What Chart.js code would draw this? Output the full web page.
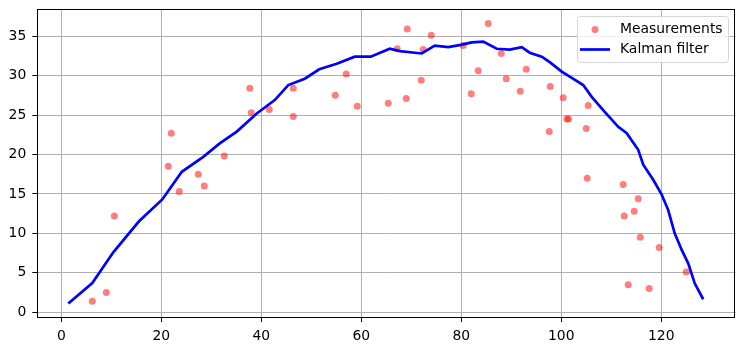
<!DOCTYPE html>
<html>
<head>
<meta charset="utf-8">
<script src="https://cdn.jsdelivr.net/npm/chart.js@4/dist/chart.umd.min.js"></script>
<style>
  html, body { margin: 0; padding: 0; background: #fff; }
  #wrap { width: 744px; height: 351px; }
</style>
</head>
<body>
<div id="wrap"><canvas id="kalmanChart" width="744" height="351"></canvas></div>
<script>
// Messwerte (x, y)
const measX = [6.2, 9.0, 10.6, 21.4, 22.0, 23.6, 27.4, 28.6, 32.6, 37.7, 38.0, 41.6, 46.4, 46.4,
    54.8, 57.0, 59.2, 65.4, 67.2, 69.0, 69.2, 72.0, 72.4, 74.0, 80.4, 82.0, 83.4, 85.4, 88.0,
    89.0, 91.8, 93.0, 97.6, 97.8, 100.4, 101.1, 101.5, 105.0, 105.2, 105.4, 112.4, 112.6,
    113.4, 114.6, 115.4, 115.8, 117.6, 119.6, 125.0];
const measY = [1.4, 2.5, 12.2, 18.5, 22.7, 15.3, 17.5, 16.0, 19.8, 28.4, 25.3, 25.7, 28.4, 24.8,
    27.5, 30.2, 26.1, 26.5, 33.4, 27.1, 35.9, 29.4, 33.3, 35.1, 33.8, 27.7, 30.6, 36.6, 32.8,
    29.6, 28.0, 30.8, 22.9, 28.6, 27.2, 24.5, 24.5, 23.3, 17.0, 26.2, 16.2, 12.2,
    3.5, 12.8, 14.4, 9.5, 3.0, 8.2, 5.1];

// Kalman-Schätzung (x, y)
const kalmanX = [1.4, 6.2, 10.4, 15.5, 20.2, 24.1, 28.4, 31.7, 35.1, 39.1, 42.7, 45.4, 48.7, 51.6,
    55.1, 58.7, 61.9, 65.7, 67.7, 72.1, 74.7, 77.4, 79.9, 82.1, 84.4, 87.1, 89.7, 92.1, 93.7,
    96.1, 97.7, 100.1, 102.1, 104.4, 106.1, 108.7, 111.4, 113.1, 115.4, 116.4, 118.4, 120.1,
    121.4, 122.7, 124.1, 125.4, 126.7, 128.4];
const kalmanY = [1.1, 3.7, 7.6, 11.5, 14.3, 17.8, 19.7, 21.4, 22.9, 25.2, 26.9, 28.8, 29.6, 30.8,
    31.5, 32.4, 32.4, 33.4, 33.1, 32.8, 33.8, 33.6, 33.9, 34.2, 34.3, 33.4, 33.3, 33.6, 32.9,
    32.4, 31.7, 30.5, 29.7, 28.8, 27.3, 25.4, 23.5, 22.7, 20.6, 18.7, 16.8, 14.9,
    12.95, 10.0, 7.9, 6.2, 3.67, 1.65];

const xTicks = [0, 20, 40, 60, 80, 100, 120];
const yTicks = [0, 5, 10, 15, 20, 25, 30, 35];

const seriesLabels = ["Measurements", "Kalman filter"];

const tickFont = { family: "DejaVu Sans", size: 13.9 };

// Rahmen um die Achsen + Legende im Diagramm
const framePlugin = {
    id: "frame",
    afterDraw(chart) {
        const { ctx, chartArea: a } = chart;
        ctx.save();
        ctx.strokeStyle = "#000";
        ctx.lineWidth = 1;
        ctx.strokeRect(Math.round(a.left) + 0.5, Math.round(a.top) + 0.5,
            Math.round(a.right - a.left) - 1, Math.round(a.bottom - a.top));

        // Legende
        const bx = 577, by = 16, bw = 151, bh = 46;
        ctx.fillStyle = "rgba(255,255,255,0.8)";
        ctx.strokeStyle = "#d6d6d6";
        ctx.beginPath();
        if (ctx.roundRect) ctx.roundRect(bx + 0.5, by + 0.5, bw, bh, 3); else ctx.rect(bx + 0.5, by + 0.5, bw, bh);
        ctx.fill();
        ctx.stroke();

        ctx.fillStyle = "rgba(255,0,0,0.5)";
        ctx.beginPath();
        ctx.arc(595, 29.5, 3.5, 0, Math.PI * 2);
        ctx.fill();

        ctx.strokeStyle = "#0000ff";
        ctx.lineWidth = 2.7;
        ctx.beginPath();
        ctx.moveTo(580, 49.5);
        ctx.lineTo(610, 49.5);
        ctx.stroke();

        ctx.fillStyle = "#000";
        ctx.font = "13.9px 'DejaVu Sans'";
        ctx.textBaseline = "middle";
        ctx.fillText(seriesLabels[0], 620, 29.5);
        ctx.fillText(seriesLabels[1], 620, 49.5);
        ctx.restore();
    }
};

const ctx = document.getElementById("kalmanChart").getContext("2d");
const kalmanChart = new Chart(ctx, {
    type: "scatter",
    data: {
        datasets: [{
            label: seriesLabels[0],
            data: measX.map((x, i) => ({ x: x, y: measY[i] })),
            backgroundColor: "rgba(255,0,0,0.5)",
            borderWidth: 0,
            pointRadius: 3.5,
            order: 2
        }, {
            label: seriesLabels[1],
            type: "line",
            data: kalmanX.map((x, i) => ({ x: x, y: kalmanY[i] })),
            borderColor: "#0000ff",
            borderWidth: 2.7,
            pointRadius: 0,
            fill: false,
            tension: 0,
            order: 1
        }]
    },
    options: {
        responsive: false,
        animation: false,
        layout: { padding: { top: 9.3, right: 8.3, left: 0, bottom: 0 } },
        plugins: {
            legend: { display: false },
            tooltip: { enabled: false }
        },
        scales: {
            x: {
                type: "linear",
                min: -4.8,
                max: 134.9,
                afterBuildTicks: scale => { scale.ticks = xTicks.map(v => ({ value: v })); },
                afterFit: scale => {
                    scale.height = 34;
                    scale.paddingLeft = 0;
                    scale.paddingRight = 0;
                },
                grid: { color: "#b0b0b0", lineWidth: 1, tickColor: "#000", tickLength: 5 },
                border: { display: false },
                ticks: { font: tickFont, color: "#000", padding: 6, maxRotation: 0 }
            },
            y: {
                min: -0.6,
                max: 38.4,
                afterBuildTicks: scale => { scale.ticks = yTicks.map(v => ({ value: v })); },
                afterFit: scale => {
                    scale.width = 37.3;
                    scale.paddingTop = 0;
                    scale.paddingBottom = 0;
                },
                grid: { color: "#b0b0b0", lineWidth: 1, tickColor: "#000", tickLength: 5 },
                border: { display: false },
                ticks: { font: tickFont, color: "#000", padding: 6 }
            }
        }
    },
    plugins: [framePlugin]
});
</script>
</body>
</html>
